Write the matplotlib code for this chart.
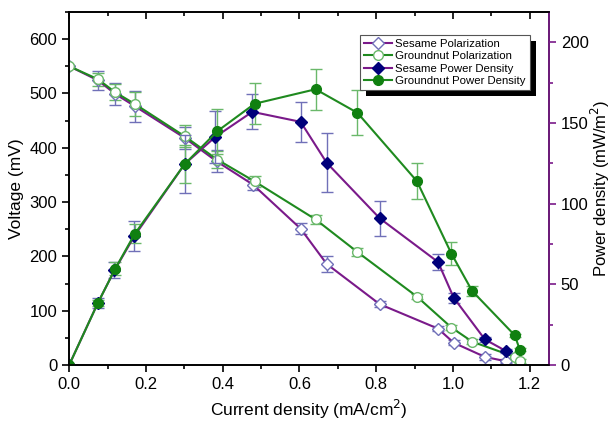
import matplotlib.pyplot as plt
from matplotlib.patches import Rectangle
from matplotlib.ticker import MultipleLocator

plt.rcParams["font.family"] = ["Liberation Sans", "DejaVu Sans"]

PURPLE = "#7a1a8a"
GREEN = "#1f8a1f"
NAVY = "#00007a"
LAV = "#7070b8"
LGREEN = "#6ab86a"

# polarization (left axis, mV)
ses_pol_x = [0.0, 0.075, 0.12, 0.172, 0.301, 0.384, 0.479, 0.603, 0.671, 0.809, 0.961, 1.002, 1.083, 1.138]
ses_pol_y = [550, 524, 499, 476, 418, 375, 332, 251, 186, 112, 67, 41, 15, 7]
ses_pol_err = [0, 17, 20, 28, 20, 20, 10, 10, 15, 5, 5, 5, 5, 4]

gnd_pol_x = [0.0, 0.075, 0.12, 0.172, 0.301, 0.386, 0.483, 0.642, 0.751, 0.906, 0.996, 1.05, 1.161, 1.174]
gnd_pol_y = [550, 526, 502, 480, 421, 378, 338, 268, 208, 126, 69, 43, 15, 8]
gnd_pol_err = [0, 12, 15, 22, 20, 15, 10, 8, 8, 5, 5, 5, 5, 4]

# power density (right axis, mW/m2)
ses_pow_x = [0.0, 0.075, 0.118, 0.170, 0.301, 0.381, 0.477, 0.603, 0.671, 0.809, 0.961, 1.002, 1.083, 1.138]
ses_pow_y = [0, 38.6, 58.7, 80, 124.6, 141.5, 157, 150.8, 125.4, 91, 63.9, 41.7, 15.9, 8.7]
ses_pow_err = [0, 3, 5, 9.5, 18, 16, 10.8, 12.6, 18.4, 11, 4.9, 3, 1.5, 1.5]

gnd_pow_x = [0.0, 0.075, 0.12, 0.171, 0.301, 0.386, 0.483, 0.642, 0.751, 0.906, 0.996, 1.05, 1.161, 1.174]
gnd_pow_y = [0, 38.6, 59.7, 81.4, 124.6, 145, 162, 171, 156.4, 114, 69, 45.9, 18.4, 9.5]
gnd_pow_err = [0, 2, 4, 6, 12, 14, 12.6, 12.7, 14, 11, 7.2, 3, 1, 1]

fig = plt.figure(figsize=(6.12, 4.23), dpi=100)
ax = fig.add_axes([0.113, 0.137, 0.784, 0.835])
ax2 = ax.twinx()

h1 = ax.errorbar(ses_pol_x, ses_pol_y, yerr=ses_pol_err, color=PURPLE, lw=1.5, marker="D", ms=6,
                 mfc="white", mec=LAV, mew=1.0, ecolor=LAV, elinewidth=1.0, capsize=4, capthick=1.0,
                 label="Sesame Polarization")
h2 = ax.errorbar(gnd_pol_x, gnd_pol_y, yerr=gnd_pol_err, color=GREEN, lw=1.5, marker="o", ms=7,
                 mfc="white", mec=LGREEN, mew=1.0, ecolor=LGREEN, elinewidth=1.0, capsize=4, capthick=1.0,
                 label="Groundnut Polarization")
h3 = ax2.errorbar(ses_pow_x, ses_pow_y, yerr=ses_pow_err, color=PURPLE, lw=1.5, marker="D", ms=6,
                  mfc=NAVY, mec=NAVY, ecolor=LAV, elinewidth=1.0, capsize=4, capthick=1.0,
                  label="Sesame Power Density")
h4 = ax2.errorbar(gnd_pow_x, gnd_pow_y, yerr=gnd_pow_err, color=GREEN, lw=1.5, marker="o", ms=7,
                  mfc="#108010", mec="#108010", ecolor=LGREEN, elinewidth=1.0, capsize=4, capthick=1.0,
                  label="Groundnut Power Density")

ax.set_xlim(0, 1.25)
ax.set_ylim(0, 650)
ax2.set_ylim(0, 219)

ax.xaxis.set_major_locator(MultipleLocator(0.2))
ax.xaxis.set_minor_locator(MultipleLocator(0.1))
ax.yaxis.set_major_locator(MultipleLocator(100))
ax.yaxis.set_minor_locator(MultipleLocator(50))
ax2.yaxis.set_major_locator(MultipleLocator(50))
ax2.yaxis.set_minor_locator(MultipleLocator(25))
ax.xaxis.set_major_formatter(plt.FuncFormatter(lambda v, p: f"{v:.1f}"))

ax.tick_params(axis="both", which="both", direction="out", labelsize=12, width=1.2)
ax.tick_params(axis="x", which="both", top=True, labeltop=False)
ax.tick_params(which="major", length=5)
ax.tick_params(which="minor", length=3)
ax2.tick_params(axis="y", which="both", direction="out", labelsize=12, colors=PURPLE, labelcolor="black", width=1.2)
ax2.tick_params(which="major", length=5)
ax2.tick_params(which="minor", length=3)
for s in ax.spines.values():
    s.set_linewidth(1.2)
for s in ax2.spines.values():
    s.set_linewidth(1.2)
ax2.spines["right"].set_color(PURPLE)

# top ticks point into the plot
for t in ax.xaxis.get_ticklines(minor=False)[1::2] + ax.xaxis.get_ticklines(minor=True)[1::2]:
    t.set_marker(3)

ax.set_xlabel("Current density (mA/cm$^2$)", fontsize=12.5)
ax.set_ylabel("Voltage (mV)", fontsize=12.5)
ax2.set_ylabel("Power density (mW/m$^2$)", fontsize=12, labelpad=0)

handles = [h[0] for h in (h1, h2, h3, h4)]
labels = [h.get_label() for h in (h1, h2, h3, h4)]
leg = ax2.legend(handles, labels, loc="upper left", bbox_to_anchor=(0.607, 0.935),
                 fontsize=8.2, frameon=True, fancybox=False, edgecolor="#555555", framealpha=1,
                 handlelength=2.4, handletextpad=0.3, borderpad=0.35, labelspacing=0.22,
                 borderaxespad=0)
leg.get_frame().set_linewidth(0.8)
leg.set_zorder(10)

# heavier drop shadow behind the legend box
fig.canvas.draw()
bb = leg.get_window_extent()
shadow = Rectangle((bb.x0 + 6, bb.y0 - 6), bb.width, bb.height, transform=None,
                   facecolor="black", edgecolor="none", zorder=9, clip_on=False)
ax2.add_artist(shadow)
shadow.set_clip_on(False)

fig.savefig("out.png", dpi=100)
